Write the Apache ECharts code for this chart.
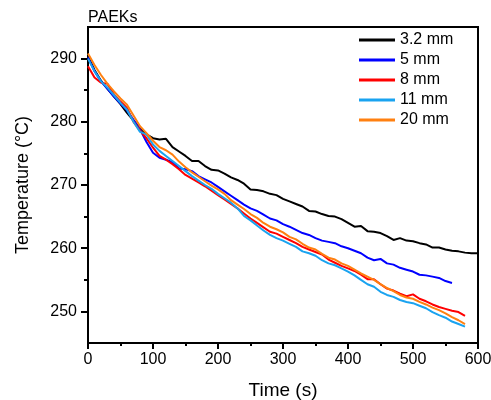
<!DOCTYPE html>
<html>
<head>
<meta charset="utf-8">
<script src="https://cdn.jsdelivr.net/npm/echarts@6/dist/echarts.min.js"></script>
<style>
  html, body { margin: 0; padding: 0; background: #fff; }
  #chart { width: 491px; height: 400px; }
</style>
</head>
<body>
<div id="chart"></div>
<script>
// time stamps (s)
var times = [0, 10, 20, 30, 40, 50, 60, 70, 80, 90,
  100, 110, 120, 130, 140, 150, 160, 170, 180, 190,
  200, 210, 220, 230, 240, 250, 260, 270, 280, 290,
  300, 310, 320, 330, 340, 350, 360, 370, 380, 390,
  400, 410, 420, 430, 440, 450, 460, 470, 480, 490,
  500, 510, 520, 530, 540, 550, 560, 570, 580, 590, 600];

// temperatures (°C)
var t3_2mm = [290.4, 288.2, 286.5, 285.2, 284.0, 282.8, 281.4, 280.2, 279.0, 278.0,
  277.4, 277.2, 277.3, 276.0, 275.3, 274.6, 273.8, 273.8, 273.0, 272.4,
  272.3, 271.8, 271.2, 270.8, 270.2, 269.3, 269.2, 269.0, 268.6, 268.4,
  267.8, 267.4, 267.0, 266.6, 265.9, 265.8, 265.4, 265.1, 265.0, 264.6,
  264.0, 263.4, 263.5, 262.7, 262.6, 262.4, 261.9, 261.3, 261.6, 261.2,
  261.1, 260.8, 260.6, 260.1, 260.1, 259.8, 259.6, 259.5, 259.3, 259.2, 259.2];

var t5mm = [290.2, 288.0, 286.4, 285.2, 284.0, 282.9, 281.8, 280.3, 278.8, 276.8,
  275.1, 274.3, 274.0, 273.6, 272.6, 272.5, 272.2, 271.4, 270.9, 270.4,
  269.7, 269.0, 268.3, 267.6, 266.9, 266.3, 265.9, 265.3, 264.7, 264.4,
  263.8, 263.4, 262.9, 262.4, 262.1, 261.6, 261.2, 261.0, 260.8, 260.3,
  260.0, 259.6, 259.2, 258.5, 258.1, 258.3, 257.6, 257.4, 256.9, 256.6,
  256.3, 255.8, 255.7, 255.5, 255.3, 254.8, 254.5];

var t8mm = [288.8, 287.0, 286.2, 286.0, 284.3, 283.2, 282.2, 280.0, 278.6, 277.4,
  275.9, 274.6, 274.0, 273.3, 272.5, 271.6, 271.0, 270.4, 269.8, 269.1,
  268.4, 267.7, 267.0, 266.3, 265.5, 264.7, 264.0, 263.3, 262.6, 262.3,
  261.8, 261.3, 260.8, 260.2, 259.8, 259.4, 259.0, 258.2, 257.7, 257.2,
  256.8, 256.4, 255.8, 255.1, 255.1, 254.3, 253.6, 253.3, 252.8, 252.4,
  252.7, 252.0, 251.6, 251.1, 250.7, 250.4, 250.1, 249.9, 249.3];

var t11mm = [290.0, 288.0, 286.4, 285.4, 284.2, 283.0, 281.9, 280.0, 278.4, 278.0,
  276.4, 275.4, 274.6, 273.8, 273.0, 272.2, 271.4, 270.7, 270.0, 269.4,
  268.6, 267.9, 267.2, 266.3, 265.1, 264.4, 263.6, 262.8, 262.1, 261.6,
  261.2, 260.7, 260.2, 259.5, 259.2, 258.8, 258.1, 257.6, 257.3, 256.8,
  256.3, 255.7, 255.0, 254.3, 253.9, 253.1, 252.6, 252.3, 251.8, 251.5,
  251.3, 250.9, 250.5, 249.9, 249.4, 249.0, 248.4, 248.0, 247.6];

var t20mm = [290.8, 289.0, 287.4, 286.0, 284.8, 283.7, 282.7, 281.0, 279.3, 278.2,
  277.0, 276.0, 275.5, 274.8, 273.7, 272.8, 272.0, 271.3, 270.6, 269.9,
  269.3, 268.6, 267.6, 266.9, 266.2, 265.4, 264.8, 264.0, 263.4, 263.0,
  262.5, 261.8, 261.4, 260.7, 260.1, 259.8, 259.1, 258.5, 258.2, 257.6,
  257.2, 256.6, 256.0, 255.5, 255.0, 254.3, 253.7, 253.2, 252.6, 252.2,
  252.0, 251.5, 251.1, 250.6, 250.2, 249.7, 249.1, 248.6, 248.0];

var seriesNames = ['3.2 mm', '5 mm', '8 mm', '11 mm', '20 mm'];
var seriesValues = [t3_2mm, t5mm, t8mm, t11mm, t20mm];
var seriesColors = ['#000000', '#0000ff', '#ff0000', '#1aa3f0', '#ff8010'];

var yMajorTicks = [250, 260, 270, 280, 290];
var yMinorTicks = [255, 265, 275, 285];

var FONT = '"Liberation Sans", Arial, sans-serif';

function pairs(vals) {
  var out = [];
  for (var i = 0; i < vals.length; i++) {
    out.push([times[i], vals[i]]);
  }
  return out;
}

var series = [];
for (var i = 0; i < seriesNames.length; i++) {
  series.push({
    name: seriesNames[i],
    type: 'line',
    data: pairs(seriesValues[i]),
    showSymbol: false,
    symbol: 'none',
    color: seriesColors[i],
    lineStyle: { width: 2, color: seriesColors[i] }
  });
}

var chart = echarts.init(document.getElementById('chart'));
chart.setOption({
  animation: false,
  textStyle: { fontFamily: FONT, color: '#000' },
  title: {
    text: 'PAEKs',
    left: 88,
    top: 10,
    padding: 0,
    textStyle: { fontFamily: FONT, fontSize: 16, fontWeight: 'normal', color: '#000' }
  },
  legend: {
    orient: 'vertical',
    left: 359,
    top: 32,
    padding: 0,
    itemGap: 4,
    itemWidth: 36,
    itemHeight: 3,
    icon: 'rect',
    data: seriesNames,
    textStyle: { fontFamily: FONT, fontSize: 16, color: '#000' }
  },
  grid: {
    left: 88, right: 13, top: 27, bottom: 57,
    outerBoundsMode: 'none',
    show: true,
    borderColor: '#000',
    borderWidth: 2
  },
  xAxis: {
    type: 'value',
    min: 0, max: 600, interval: 100,
    name: 'Time (s)',
    nameLocation: 'middle',
    nameGap: 38,
    nameTextStyle: { fontFamily: FONT, fontSize: 19, color: '#000' },
    axisLine: { lineStyle: { color: '#000', width: 2 } },
    axisTick: { length: 6, lineStyle: { width: 2, color: '#000' } },
    minorTick: { show: true, splitNumber: 2, length: 3, lineStyle: { width: 2, color: '#000' } },
    axisLabel: { fontFamily: FONT, fontSize: 16, color: '#000', margin: 9 },
    splitLine: { show: false }
  },
  yAxis: [{
    type: 'value',
    min: 245, max: 295,
    name: 'Temperature (\u00B0C)',
    nameLocation: 'middle',
    nameGap: 56,
    nameTextStyle: { fontFamily: FONT, fontSize: 18, color: '#000' },
    axisLine: { show: true, lineStyle: { color: '#000', width: 2 } },
    axisTick: { show: true, length: 7, customValues: yMajorTicks, lineStyle: { width: 2, color: '#000' } },
    axisLabel: { fontFamily: FONT, fontSize: 16, color: '#000', margin: 11, customValues: yMajorTicks },
    splitLine: { show: false }
  }, {
    type: 'value',
    position: 'left',
    min: 245, max: 295,
    axisLine: { show: false },
    axisTick: { show: true, length: 4, customValues: yMinorTicks, lineStyle: { width: 2, color: '#000' } },
    axisLabel: { show: false },
    splitLine: { show: false }
  }],
  series: series
});
</script>
</body>
</html>
